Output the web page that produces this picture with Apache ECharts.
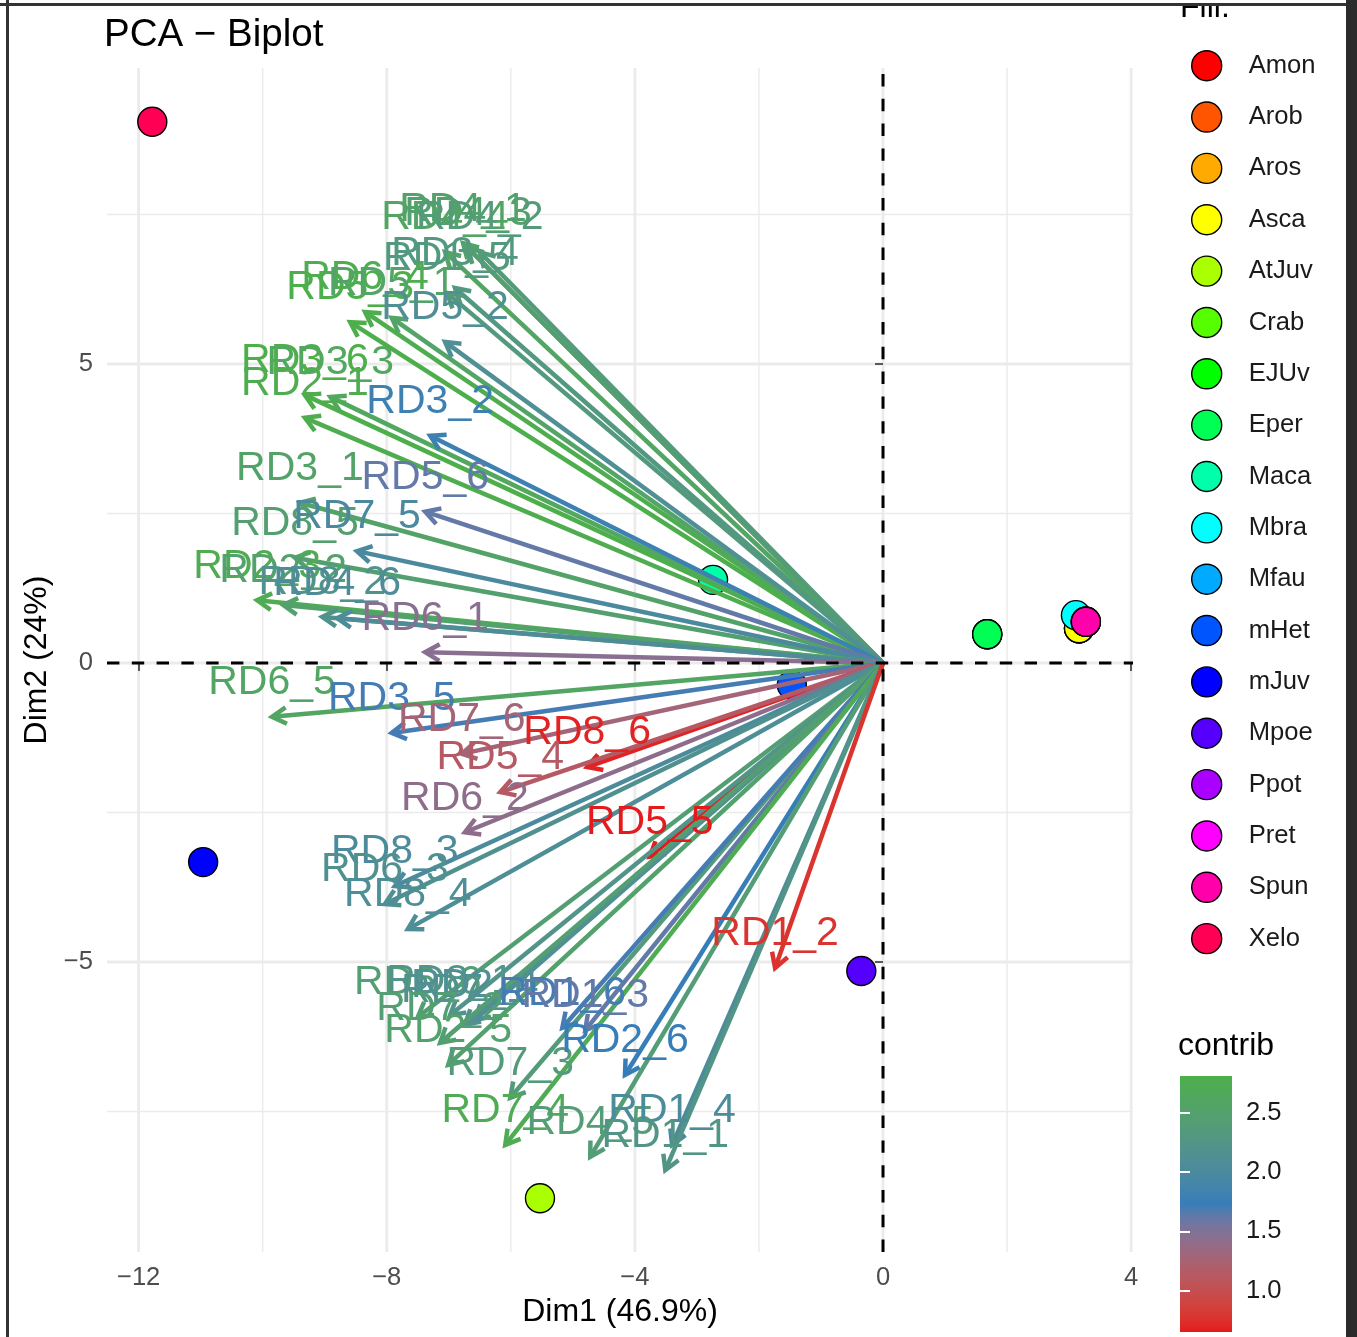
<!DOCTYPE html>
<html>
<head>
<meta charset="utf-8">
<script src="https://cdn.jsdelivr.net/npm/echarts@6/dist/echarts.min.js"></script>
<style>
  html, body { margin: 0; padding: 0; background: #fff; width: 1357px; height: 1337px; overflow: hidden; }
  #chart { position: absolute; left: 0; top: 0; width: 1357px; height: 1337px; }
  .edge { position: absolute; background: #333; }
</style>
</head>
<body>
<div id="chart"></div>
<div class="edge" style="left:0;top:0;width:1357px;height:3px;background:#fff"></div>
<div class="edge" style="left:0;top:3px;width:1357px;height:3px;"></div>
<div class="edge" style="left:6px;top:0;width:3px;height:1337px;"></div>
<div class="edge" style="left:1346px;top:0;width:11px;height:1337px;background:#2b2b2b"></div>
<script>
// ---- variables (arrow tips on Dim1 / Dim2) ----
const varNames = ['RD4_4','RD4_1','RD4_3','RD4_2','RD1_5','RD3_4','RD5_3','RD6_4','RD5_1','RD5_2','RD3_6','RD3_3','RD2_1','RD3_2',
  'RD3_1','RD5_6','RD8_5','RD7_5','RD2_3','RD2_2','RD8_2','RD4_6','RD6_1',
  'RD6_5','RD3_5','RD7_6','RD8_6','RD5_4','RD6_2','RD5_5','RD8_3','RD6_3','RD8_4',
  'RD6_6','RD8_1','RD7_1','RD2_4','RD7_2','RD2_5','RD7_3','RD1_6','RD1_3','RD2_6','RD7_4','RD4_5','RD1_4','RD1_1','RD1_2'];
const varDim1 = [-7.06,-6.77,-6.69,-6.50,-7.03,-6.90,-8.59,-8.35,-7.92,-7.06,-9.32,-8.91,-9.32,-7.30,
  -9.40,-7.38,-9.48,-8.48,-10.09,-9.67,-9.04,-8.80,-7.38,
  -9.85,-7.92,-6.79,-4.77,-6.17,-6.74,-3.76,-7.87,-8.03,-7.66,
  -7.50,-6.98,-6.74,-6.58,-7.14,-7.01,-6.01,-5.17,-4.80,-4.16,-6.09,-4.72,-3.40,-3.51,-1.74];
const varDim2 = [6.87,7.02,6.94,6.87,6.19,6.27,5.70,5.87,5.77,5.37,4.48,4.45,4.10,3.80,
  2.68,2.53,1.76,1.87,1.05,0.97,0.77,0.75,0.18,
  -0.90,-1.17,-1.52,-1.74,-2.16,-2.83,-3.24,-3.73,-4.03,-4.45,
  -5.92,-5.89,-6.05,-5.97,-6.35,-6.72,-7.27,-6.10,-6.14,-6.89,-8.06,-8.26,-8.06,-8.48,-5.10];
const varContrib = [2.59,2.54,2.47,2.38,2.33,2.31,2.80,2.77,2.56,2.10,2.81,2.64,2.76,1.80,
  2.54,1.62,2.47,2.00,2.74,2.51,2.19,2.07,1.45,
  2.60,1.70,1.28,0.69,1.14,1.42,0.65,2.02,2.15,2.09,
  2.43,2.22,2.18,2.10,2.43,2.51,2.37,1.70,1.62,1.73,2.72,2.41,2.04,2.25,0.77];

// ---- individuals, one point per species ----
const species = ['Amon','Arob','Aros','Asca','AtJuv','Crab','EJUv','Eper','Maca','Mbra','Mfau','mHet','mJuv','Mpoe','Ppot','Pret','Spun','Xelo'];
const indDim1 = [3.16,3.16,3.16,3.16,-5.53,1.68,1.68,1.68,-2.74,3.11,3.27,-1.47,-10.96,-0.35,3.27,3.27,3.27,-11.78];
const indDim2 = [0.58,0.58,0.58,0.58,-8.95,0.48,0.48,0.48,1.39,0.80,0.69,-0.37,-3.33,-5.15,0.69,0.69,0.69,9.05];
const speciesColors = ['#FF0000','#FF5500','#FFAA00','#FFFF00','#AAFF00','#55FF00','#00FF00','#00FF55','#00FFAA',
  '#00FFFF','#00AAFF','#0055FF','#0000FF','#5500FF','#AA00FF','#FF00FF','#FF00AA','#FF0055'];

// ---- axis breaks ----
const xMajorTicks = [-12, -8, -4, 0, 4];
const xMinorTicks = [-10, -6, -2, 2];
const yMajorTicks = [-5, 0, 5];
const yMinorTicks = [-7.5, -2.5, 2.5, 7.5];
const contribBreaks = [1.0, 1.5, 2.0, 2.5];

const FONT = '"Liberation Sans", Arial, Helvetica, sans-serif';
const gradEnds = ['#E41A1C', '#377EB8', '#4DAF4A'];

// Lab-space colour interpolation for the contrib gradient
function hexToRgb(h) { return [1, 3, 5].map(i => parseInt(h.substr(i, 2), 16)); }
function toLin(c) { c /= 255; return c <= 0.04045 ? c / 12.92 : Math.pow((c + 0.055) / 1.055, 2.4); }
function fromLin(c) { const v = c <= 0.0031308 ? 12.92 * c : 1.055 * Math.pow(c, 1 / 2.4) - 0.055; return Math.round(Math.max(0, Math.min(1, v)) * 255); }
function rgbToLab(rgb) {
  const [r, g, b] = rgb.map(toLin);
  const X = (0.4124564 * r + 0.3575761 * g + 0.1804375 * b) / 0.95047;
  const Y = (0.2126729 * r + 0.7151522 * g + 0.0721750 * b);
  const Z = (0.0193339 * r + 0.1191920 * g + 0.9503041 * b) / 1.08883;
  const f = t => t > 0.008856 ? Math.cbrt(t) : 7.787 * t + 16 / 116;
  const fx = f(X), fy = f(Y), fz = f(Z);
  return [116 * fy - 16, 500 * (fx - fy), 200 * (fy - fz)];
}
function labToHex(lab) {
  const fy = (lab[0] + 16) / 116, fx = fy + lab[1] / 500, fz = fy - lab[2] / 200;
  const inv = t => t * t * t > 0.008856 ? t * t * t : (t - 16 / 116) / 7.787;
  const X = inv(fx) * 0.95047, Y = inv(fy), Z = inv(fz) * 1.08883;
  const r = 3.2404542 * X - 1.5371385 * Y - 0.4985314 * Z;
  const g = -0.9692660 * X + 1.8760108 * Y + 0.0415560 * Z;
  const b = 0.0556434 * X - 0.2040259 * Y + 1.0572252 * Z;
  return '#' + [r, g, b].map(c => fromLin(c).toString(16).padStart(2, '0')).join('');
}
function gradientColors(n) {
  const labs = gradEnds.map(h => rgbToLab(hexToRgb(h)));
  const out = [];
  for (let i = 0; i < n; i++) {
    const t = i / (n - 1);
    const seg = t <= 0.5 ? 0 : 1;
    const u = seg === 0 ? t * 2 : (t - 0.5) * 2;
    const a = labs[seg], b = labs[seg + 1];
    out.push(labToHex([0, 1, 2].map(k => a[k] + (b[k] - a[k]) * u)));
  }
  return out;
}
const ramp = gradientColors(41);
const cMin = Math.min(...varContrib), cMax = Math.max(...varContrib);
const minus = v => (v < 0 ? '\u2212' + Math.abs(v) : String(v));

const gridData = [
  ...xMajorTicks.map(v => [v, 0, 1]), ...xMinorTicks.map(v => [v, 0, 0]),
  ...yMajorTicks.map(v => [v, 1, 1]), ...yMinorTicks.map(v => [v, 1, 0])
];

const chart = echarts.init(document.getElementById('chart'), null, { renderer: 'canvas' });

const pointSeries = species.map((s, i) => ({
  name: s,
  type: 'scatter',
  xAxisIndex: 0, yAxisIndex: 0,
  z: 2,
  symbol: 'circle',
  symbolSize: 29,
  itemStyle: { color: speciesColors[i], borderColor: '#000', borderWidth: 1.4, opacity: 1 },
  emphasis: { disabled: true },
  data: [[indDim1[i], indDim2[i]]]
}));

const arrowData = varNames.map((n, i) => [varDim1[i], varDim2[i], varContrib[i]]);

const option = {
  animation: false,
  backgroundColor: '#fff',
  textStyle: { fontFamily: FONT },
  title: [
    { text: 'PCA \u2212 Biplot', left: 104, top: 16, padding: 0,
      textStyle: { fontFamily: FONT, fontSize: 38.5, fontWeight: 'normal', color: '#000' } },
    { text: 'Fill.', left: 1180, top: -8, padding: 0,
      textStyle: { fontFamily: FONT, fontSize: 32, fontWeight: 'normal', color: '#000' } },
    { text: 'contrib', left: 1178, top: 1030, padding: 0,
      textStyle: { fontFamily: FONT, fontSize: 32, fontWeight: 'normal', color: '#000' } }
  ],
  legend: {
    data: species,
    orient: 'vertical',
    left: 1191, top: 50,
    padding: 0,
    icon: 'circle',
    itemWidth: 30, itemHeight: 30, itemGap: 19.95,
    itemStyle: { borderColor: '#000', borderWidth: 1.4 },
    textStyle: { fontFamily: FONT, fontSize: 25.6, color: '#1a1a1a', padding: [0, 0, 0, 22] },
    selectedMode: false
  },
  visualMap: {
    type: 'continuous', show: false,
    min: cMin, max: cMax, dimension: 2,
    seriesIndex: [species.length + 1, species.length + 2],
    inRange: { color: ramp }
  },
  grid: [
    { left: 107, top: 68, width: 1026, height: 1184 },
    { left: 1180, top: 1076, width: 52, height: 256 }
  ],
  xAxis: [
    { gridIndex: 0, type: 'value', min: -12.51, max: 4.03,
      name: 'Dim1 (46.9%)', nameLocation: 'middle', nameGap: 44,
      nameTextStyle: { fontFamily: FONT, fontSize: 32, color: '#000' },
      axisLine: { show: false }, splitLine: { show: false },
      axisTick: { show: true, customValues: xMajorTicks, length: 8, lineStyle: { color: '#333', width: 1.6 } },
      axisLabel: { customValues: xMajorTicks, formatter: minus, margin: 13,
        fontFamily: FONT, fontSize: 25.6, color: '#4D4D4D' } },
    { gridIndex: 1, type: 'value', min: 0, max: 1, show: false }
  ],
  yAxis: [
    { gridIndex: 0, type: 'value', min: -9.85, max: 9.95,
      name: 'Dim2 (24%)', nameLocation: 'middle', nameGap: 53, nameRotate: 90,
      nameTextStyle: { fontFamily: FONT, fontSize: 32, color: '#000' },
      axisLine: { show: false }, splitLine: { show: false },
      axisTick: { show: true, customValues: yMajorTicks, length: 8, lineStyle: { color: '#333', width: 1.6 } },
      axisLabel: { customValues: yMajorTicks, formatter: minus, margin: 14,
        fontFamily: FONT, fontSize: 25.6, color: '#4D4D4D' } },
    { gridIndex: 1, type: 'value', min: cMin, max: cMax, position: 'right', z: 6,
      axisLine: { show: false }, splitLine: { show: false },
      axisTick: { show: true, inside: true, customValues: contribBreaks, length: 10, lineStyle: { color: '#fff', width: 2 } },
      axisLabel: { customValues: contribBreaks, formatter: v => v.toFixed(1), margin: 14,
        fontFamily: FONT, fontSize: 25.6, color: '#1a1a1a' } },
    { gridIndex: 1, type: 'value', min: cMin, max: cMax, position: 'left', z: 6,
      axisLine: { show: false }, splitLine: { show: false },
      axisTick: { show: true, inside: true, customValues: contribBreaks, length: 10, lineStyle: { color: '#fff', width: 2 } },
      axisLabel: { show: false } }
  ],
  series: [
    // panel grid lines
    {
      type: 'custom', xAxisIndex: 0, yAxisIndex: 0, z: 0, silent: true,
      data: gridData,
      renderItem(params, api) {
        const cs = params.coordSys;
        const v = api.value(0), vertical = api.value(1) === 0, major = api.value(2) === 1;
        let shape;
        if (vertical) {
          const p = api.coord([v, 0]);
          shape = { x1: p[0], y1: cs.y, x2: p[0], y2: cs.y + cs.height };
        } else {
          const p = api.coord([0, v]);
          shape = { x1: cs.x, y1: p[1], x2: cs.x + cs.width, y2: p[1] };
        }
        return { type: 'line', shape, style: { stroke: '#EBEBEB', lineWidth: major ? 2.8 : 1.4 } };
      }
    },
    ...pointSeries,
    // variable arrows
    {
      type: 'custom', xAxisIndex: 0, yAxisIndex: 0, z: 3, silent: true,
      data: arrowData,
      encode: { x: 0, y: 1 },
      renderItem(params, api) {
        const tip = api.coord([api.value(0), api.value(1)]);
        const o = api.coord([0, 0]);
        const color = api.visual('color');
        const ang = Math.atan2(tip[1] - o[1], tip[0] - o[0]);
        const L = 16.5, a = Math.PI / 6;
        const p1 = [tip[0] - L * Math.cos(ang - a), tip[1] - L * Math.sin(ang - a)];
        const p2 = [tip[0] - L * Math.cos(ang + a), tip[1] - L * Math.sin(ang + a)];
        return {
          type: 'group',
          children: [
            { type: 'line', shape: { x1: o[0], y1: o[1], x2: tip[0], y2: tip[1] },
              style: { stroke: color, lineWidth: 4.5, lineCap: 'butt' } },
            { type: 'polyline', shape: { points: [p1, tip, p2] },
              style: { stroke: color, fill: null, lineWidth: 4.5, lineJoin: 'miter' } }
          ]
        };
      }
    },
    // variable labels
    {
      type: 'custom', xAxisIndex: 0, yAxisIndex: 0, z: 4, silent: true,
      data: arrowData,
      encode: { x: 0, y: 1 },
      renderItem(params, api) {
        const tip = api.coord([api.value(0), api.value(1)]);
        return {
          type: 'text', x: tip[0], y: tip[1] - 34,
          style: { text: varNames[params.dataIndex], fill: api.visual('color'),
            font: '41px ' + FONT, align: 'center', verticalAlign: 'middle' }
        };
      }
    },
    // dashed reference lines through the origin
    {
      type: 'custom', xAxisIndex: 0, yAxisIndex: 0, z: 5, silent: true,
      data: [[0, 0]],
      renderItem(params, api) {
        const cs = params.coordSys;
        const o = api.coord([api.value(0), api.value(1)]);
        const st = { stroke: '#000', lineWidth: 3, lineDash: [12.4, 12.4] };
        return {
          type: 'group',
          children: [
            { type: 'line', shape: { x1: cs.x, y1: o[1], x2: cs.x + cs.width, y2: o[1] }, style: st },
            { type: 'line', shape: { x1: o[0], y1: cs.y + cs.height, x2: o[0], y2: cs.y }, style: st }
          ]
        };
      }
    },
    // contrib colour bar
    {
      type: 'custom', xAxisIndex: 1, yAxisIndex: 1, z: 2, silent: true,
      data: [[0, cMin, 1, cMax]],
      encode: { x: [0, 2], y: [1, 3] },
      renderItem(params, api) {
        const tl = api.coord([api.value(0), api.value(3)]);
        const br = api.coord([api.value(2), api.value(1)]);
        const stops = ramp.slice().reverse().map((c, i, arr) => ({ offset: i / (arr.length - 1), color: c }));
        return {
          type: 'rect',
          shape: { x: tl[0], y: tl[1], width: br[0] - tl[0], height: br[1] - tl[1] },
          style: { fill: new echarts.graphic.LinearGradient(0, 0, 0, 1, stops) }
        };
      }
    }
  ]
};

chart.setOption(option);
</script>
</body>
</html>
